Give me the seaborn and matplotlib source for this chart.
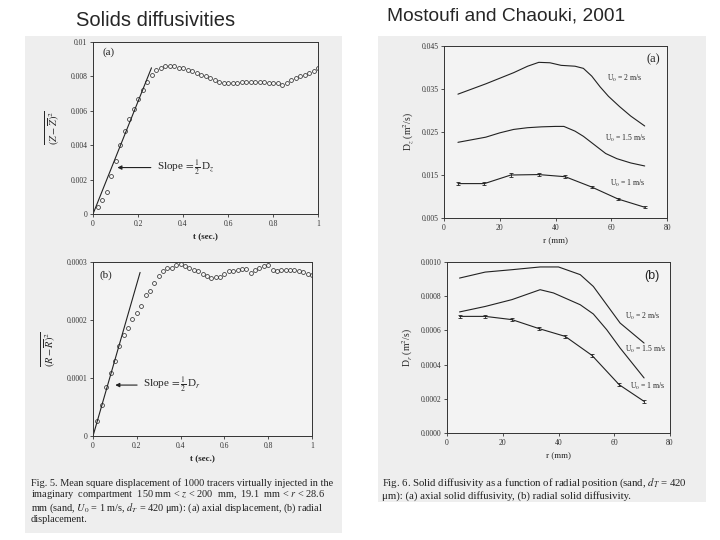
import matplotlib
matplotlib.use("Agg")
import matplotlib.pyplot as plt
from matplotlib.patches import Rectangle
import seaborn as sns

# ---------------- data ----------------
# Fig 5a: axial mean square displacement
t_a = [0.02, 0.04, 0.06, 0.08, 0.10, 0.12, 0.14, 0.16, 0.18, 0.20, 0.22, 0.24, 0.26,
       0.28, 0.30, 0.32, 0.34, 0.36, 0.38, 0.40, 0.42, 0.44, 0.46, 0.48, 0.50,
       0.52, 0.54, 0.56, 0.58, 0.60, 0.62, 0.64, 0.66, 0.68, 0.70, 0.72, 0.74,
       0.76, 0.78, 0.80, 0.82, 0.84, 0.86, 0.88, 0.90, 0.92, 0.94, 0.96, 0.98, 1.00]
msd_z = [0.0004, 0.0008, 0.0013, 0.0022, 0.0031, 0.0040, 0.0048, 0.0055, 0.0061, 0.0067,
         0.0072, 0.0077, 0.0081, 0.0084, 0.0085, 0.0086, 0.0086, 0.0086, 0.0085, 0.0085,
         0.0084, 0.0083, 0.0082, 0.0081, 0.0080, 0.0079, 0.0078, 0.0077, 0.0076, 0.0076,
         0.0076, 0.0076, 0.0077, 0.0077, 0.0077, 0.0077, 0.0077, 0.0077, 0.0076, 0.0076,
         0.0076, 0.0075, 0.0076, 0.0078, 0.0079, 0.0080, 0.0081, 0.0082, 0.0083, 0.0085]
fit_a_t = [0.0, 0.26]
fit_a_y = [0.0, 0.0085]

# Fig 5b: radial mean square displacement
t_b = t_a
msd_r = [0.000026, 0.000053, 0.000085, 0.000109, 0.000129, 0.000155, 0.000174, 0.000187,
         0.000201, 0.000212, 0.000225, 0.000243, 0.000250, 0.000263, 0.000276, 0.000285,
         0.000289, 0.000290, 0.000294, 0.000296, 0.000293, 0.000290, 0.000287, 0.000284,
         0.000280, 0.000276, 0.000273, 0.000274, 0.000275, 0.000280, 0.000284, 0.000284,
         0.000286, 0.000288, 0.000288, 0.000281, 0.000286, 0.000290, 0.000293, 0.000294,
         0.000287, 0.000284, 0.000286, 0.000287, 0.000287, 0.000286, 0.000284, 0.000282,
         0.000280, 0.000277]
fit_b_t = [0.0, 0.215]
fit_b_y = [0.0, 0.000282]

# Fig 6a: axial solid diffusivity
r_u2a = [5, 10, 15, 20, 25, 30, 34, 38, 42, 47, 50, 53, 56, 59, 63, 67, 72]
dz_u2 = [0.0338, 0.0350, 0.0362, 0.0375, 0.0388, 0.0403, 0.0412, 0.0411, 0.0405, 0.0403,
         0.0398, 0.0380, 0.0355, 0.0333, 0.0309, 0.0287, 0.0264]
r_u15a = [5, 10, 15, 20, 25, 30, 35, 40, 43, 47, 50, 54, 58, 62, 67, 72]
dz_u15 = [0.0226, 0.0232, 0.0238, 0.0248, 0.0256, 0.0260, 0.0262, 0.0263, 0.0263, 0.0252,
          0.0240, 0.0220, 0.0200, 0.0188, 0.0178, 0.0171]
r_pts = [5, 14.5, 24, 34, 43.5, 53, 62.5, 72]
dz_u1 = [0.0130, 0.0130, 0.0150, 0.0151, 0.0146, 0.0122, 0.0094, 0.0075]
dz_u1_err = [0.0004, 0.0004, 0.0004, 0.0004, 0.0004, 0.0003, 0.0002, 0.0002]

# Fig 6b: radial solid diffusivity
r_u2b = [4.5, 13.7, 23.3, 33.4, 40, 47.8, 52.5, 57.3, 62.1, 70.7]
dr_u2 = [0.000906, 0.000941, 0.000955, 0.000971, 0.000971, 0.000926, 0.000857, 0.000750,
         0.000643, 0.000526]
r_u15b = [4.5, 13.7, 23.3, 33.4, 38.2, 47.8, 52.5, 57.3, 62.1, 70.7]
dr_u15 = [0.000708, 0.000740, 0.000780, 0.000838, 0.000819, 0.000750, 0.000696, 0.000604,
          0.000497, 0.000322]
r_u1b = [4.5, 13.7, 23.3, 33.1, 42.4, 52, 61.8, 70.7]
dr_u1 = [0.000682, 0.000682, 0.000663, 0.000610, 0.000565, 0.000454, 0.000282, 0.000185]
dr_u1_err = [0.000008] * 8

# ---------------- style ----------------
sns.set_theme(style="white")
plt.rcParams["font.family"] = ["Liberation Serif", "DejaVu Serif"]
plt.rcParams["mathtext.fontset"] = "stix"

W, H = 720, 540
fig = plt.figure(figsize=(7.2, 5.4), dpi=100)
fig.patch.set_facecolor("white")
PANEL = "#eeeeee"


def fx(x):
    return x / W


def fy(y):
    return 1 - y / H


def panel(x0, y0, x1, y1):
    fig.add_artist(Rectangle((fx(x0), fy(y1)), fx(x1) - fx(x0), fy(y0) - fy(y1),
                             transform=fig.transFigure, facecolor=PANEL,
                             edgecolor="none", zorder=0))


panel(25, 36, 342, 533)
panel(378, 36, 706, 502)


def make_ax(x0, y0, x1, y1):
    ax = fig.add_axes([fx(x0), fy(y1), fx(x1) - fx(x0), fy(y0) - fy(y1)])
    ax.set_facecolor("#f3f3f3")
    for s in ax.spines.values():
        s.set_visible(True)
        s.set_linewidth(0.7)
        s.set_color("#333333")
    ax.tick_params(direction="out", length=2, width=0.6, labelsize=5.5, pad=2,
                   colors="#333333", bottom=True, left=True)
    return ax


mk = dict(marker="o", linestyle="", markerfacecolor="none", markeredgecolor="#333333",
          markersize=2.8, markeredgewidth=0.55, color="#333333")

# ---- Fig 5a ----
ax1 = make_ax(93, 42, 318, 214)
sns.lineplot(x=t_a, y=msd_z, ax=ax1, **mk)
sns.lineplot(x=fit_a_t, y=fit_a_y, ax=ax1, color="#222222", lw=0.8)
ax1.set_xlim(0, 1)
ax1.set_ylim(0, 0.01)
ax1.set_xticks([0, 0.2, 0.4, 0.6, 0.8, 1])
ax1.set_xticklabels(["0", "0.2", "0.4", "0.6", "0.8", "1"])
ax1.set_yticks([0, 0.002, 0.004, 0.006, 0.008, 0.01])
ax1.set_yticklabels(["0", "0.002", "0.004", "0.006", "0.008", "0.01"])
ax1.set_xlabel("t (sec.)", fontsize=6.5, fontweight="bold", labelpad=4)
ax1.set_ylabel(r"$\overline{(Z-\overline{Z})^2}$", fontsize=7.5, labelpad=6)
ax1.text(0.04, 0.0094, "(a)", fontsize=8, va="center", ha="left")
ax1.annotate(r"Slope$\,=\frac{1}{2}\,$D$_z$", xy=(0.096, 0.0027), xytext=(0.284, 0.0027),
             fontsize=8, va="center", ha="left",
             arrowprops=dict(arrowstyle="-|>", color="#222222", lw=0.8, mutation_scale=6))

# ---- Fig 5b ----
ax2 = make_ax(93, 262, 312, 436)
sns.lineplot(x=t_b, y=msd_r, ax=ax2, **mk)
sns.lineplot(x=fit_b_t, y=fit_b_y, ax=ax2, color="#222222", lw=0.8)
ax2.set_xlim(0, 1)
ax2.set_ylim(0, 0.0003)
ax2.set_xticks([0, 0.2, 0.4, 0.6, 0.8, 1])
ax2.set_xticklabels(["0", "0.2", "0.4", "0.6", "0.8", "1"])
ax2.set_yticks([0, 0.0001, 0.0002, 0.0003])
ax2.set_yticklabels(["0", "0.0001", "0.0002", "0.0003"])
ax2.set_xlabel("t (sec.)", fontsize=6.5, fontweight="bold", labelpad=4)
ax2.set_ylabel(r"$\overline{(R-\overline{R})^2}$", fontsize=7.5, labelpad=6)
ax2.text(0.03, 0.000277, "(b)", fontsize=8, va="center", ha="left")
ax2.annotate(r"Slope$\,=\frac{1}{2}\,$D$_r$", xy=(0.089, 0.0000878), xytext=(0.229, 0.0000878),
             fontsize=8, va="center", ha="left",
             arrowprops=dict(arrowstyle="-|>", color="#222222", lw=0.8, mutation_scale=6))

# ---- Fig 6a ----
ax3 = make_ax(444, 46, 667, 218)
sns.lineplot(x=r_u2a, y=dz_u2, ax=ax3, color="#222222", lw=0.8)
sns.lineplot(x=r_u15a, y=dz_u15, ax=ax3, color="#222222", lw=0.8)
sns.lineplot(x=r_pts, y=dz_u1, ax=ax3, color="#222222", lw=0.8)
ax3.errorbar(r_pts, dz_u1, yerr=dz_u1_err, fmt="none", ecolor="#222222",
             elinewidth=0.6, capsize=1.5, capthick=0.6)
ax3.set_xlim(0, 80)
ax3.set_ylim(0.005, 0.045)
ax3.set_xticks([0, 20, 40, 60, 80])
ax3.set_yticks([0.005, 0.015, 0.025, 0.035, 0.045])
ax3.set_yticklabels(["0.005", "0.015", "0.025", "0.035", "0.045"])
ax3.set_xlabel("r (mm)", fontsize=6.5, labelpad=4)
ax3.set_ylabel(r"D$_z$ (m$^2$/s)", fontsize=7, labelpad=4)
ax3.text(75.2, 0.0418, "(a)", fontsize=9, va="center", ha="center")
ax3.text(58.5, 0.0374, r"U$_0$ = 2 m/s", fontsize=5.5, va="center", ha="left")
ax3.text(57.8, 0.0235, r"U$_0$ = 1.5 m/s", fontsize=5.5, va="center", ha="left")
ax3.text(59.5, 0.0130, r"U$_0$ = 1 m/s", fontsize=5.5, va="center", ha="left")

# ---- Fig 6b ----
ax4 = make_ax(447, 262, 670, 433)
sns.lineplot(x=r_u2b, y=dr_u2, ax=ax4, color="#222222", lw=0.8)
sns.lineplot(x=r_u15b, y=dr_u15, ax=ax4, color="#222222", lw=0.8)
sns.lineplot(x=r_u1b, y=dr_u1, ax=ax4, color="#222222", lw=0.8)
ax4.errorbar(r_u1b, dr_u1, yerr=dr_u1_err, fmt="none", ecolor="#222222",
             elinewidth=0.6, capsize=1.5, capthick=0.6)
ax4.set_xlim(0, 80)
ax4.set_ylim(0, 0.001)
ax4.set_xticks([0, 20, 40, 60, 80])
ax4.set_yticks([0, 0.0002, 0.0004, 0.0006, 0.0008, 0.001])
ax4.set_yticklabels(["0.0000", "0.0002", "0.0004", "0.0006", "0.0008", "0.0010"])
ax4.set_xlabel("r (mm)", fontsize=6.5, labelpad=4)
ax4.set_ylabel(r"D$_r$ (m$^2$/s)", fontsize=7, labelpad=4)
ax4.text(73.5, 0.000916, "(b)", fontsize=9, va="center", ha="center",
         family=["Liberation Sans", "DejaVu Sans"])
ax4.text(63.9, 0.000682, r"U$_0$ = 2 m/s", fontsize=5.5, va="center", ha="left")
ax4.text(63.9, 0.000487, r"U$_0$ = 1.5 m/s", fontsize=5.5, va="center", ha="left")
ax4.text(65.7, 0.000273, r"U$_0$ = 1 m/s", fontsize=5.5, va="center", ha="left")

# ---------------- titles ----------------
sans = ["Liberation Sans", "DejaVu Sans"]
title1 = fig.text(fx(156), fy(21), "Solids diffusivities", fontsize=14, ha="center",
                  va="center", family=sans)
title2 = fig.text(fx(506), fy(16), "Mostoufi and Chaouki, 2001", fontsize=14, ha="center",
                  va="center", family=sans)

# ---------------- captions ----------------
cap5 = ["Fig. 5. Mean square displacement of 1000 tracers virtually injected in the",
        r"imaginary  compartment  150 mm < $z$ < 200  mm,  19.1  mm < $r$ < 28.6",
        r"mm (sand, $U_0$ = 1 m/s, $d_T$ = 420 μm): (a) axial displacement, (b) radial",
        "displacement."]
cap5_txt = fig.text(fx(31), fy(478), "\n".join(cap5), fontsize=7, ha="left",
                    va="top", color="#222222", linespacing=1.05)

cap6 = [r"Fig. 6. Solid diffusivity as a function of radial position (sand, $d_T$ = 420",
        "μm): (a) axial solid diffusivity, (b) radial solid diffusivity."]
cap6_txt = fig.text(fx(382), fy(477), "\n".join(cap6), fontsize=7, ha="left",
                    va="top", color="#222222", linespacing=1.05)


def fit_group(texts, target_px):
    fig.canvas.draw()
    r = fig.canvas.get_renderer()
    w = texts[0].get_window_extent(r).width
    for tx in texts:
        tx.set_fontsize(tx.get_fontsize() * target_px / w)


fit_group([cap5_txt], 305)
fit_group([cap6_txt], 308)
fit_group([title1], 160)
fit_group([title2], 240)

fig.savefig("out.png", dpi=100, facecolor="white")
